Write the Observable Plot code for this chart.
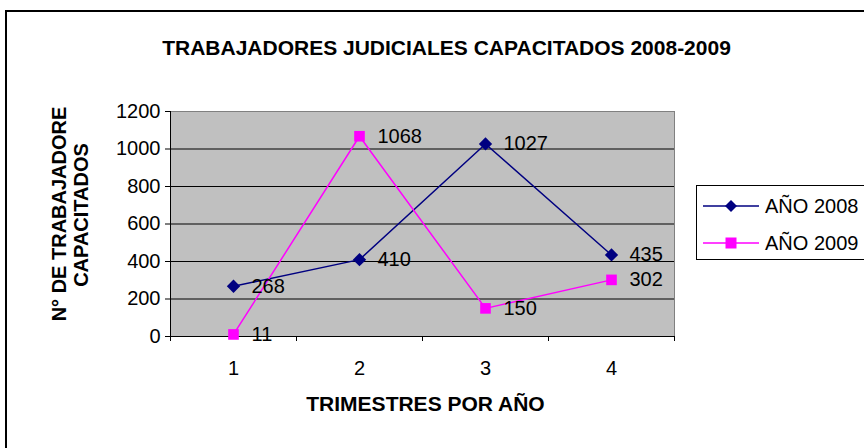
<!DOCTYPE html>
<html>
<head>
<meta charset="utf-8">
<script src="https://cdn.jsdelivr.net/npm/d3@7"></script>
<script src="https://cdn.jsdelivr.net/npm/@observablehq/plot@0.6"></script>
<style>
  html, body { margin: 0; padding: 0; background: #fff; overflow: hidden; width: 864px; height: 448px; }
  body { position: relative; font-family: "Liberation Sans", Arial, sans-serif; }
  #chart { position: absolute; left: 0; top: 0; }
  #border { position: absolute; left: 5px; top: 10px; width: 900px; height: 500px; border: 2px solid #000; box-sizing: border-box; pointer-events: none; }
  #legend { position: absolute; left: 696px; top: 185px; width: 190px; height: 75px; border: 1px solid #000; box-sizing: border-box; background: #fff; }
  .item { position: absolute; left: 6px; height: 24px; display: flex; align-items: center; font-size: 20px; color: #000; white-space: nowrap; }
  .item svg { margin-right: 6px; }
</style>
</head>
<body>
<div id="chart"></div>
<div id="border"></div>
<div id="legend"></div>
<script>
const quarters = [1, 2, 3, 4];
const series2008 = [268, 410, 1027, 435];
const series2009 = [11, 1068, 150, 302];
const seriesNames = ["AÑO 2008", "AÑO 2009"];
const yTicks = [0, 200, 400, 600, 800, 1000, 1200];
const xBoundaries = [0.5, 1.5, 2.5, 3.5, 4.5];
const title = "TRABAJADORES JUDICIALES CAPACITADOS 2008-2009";
const yLabel1 = "N° DE TRABAJADORE";
const yLabel2 = "CAPACITADOS";
const xLabel = "TRIMESTRES POR AÑO";

const colors = ["#000080", "#FF00FF"];
const symbols = ["diamond2", "square"];

const d08 = quarters.map((q, i) => ({q, v: series2008[i]}));
const d09 = quarters.map((q, i) => ({q, v: series2009[i]}));

const font = "Liberation Sans, Arial, sans-serif";

const chart = Plot.plot({
  width: 864,
  height: 448,
  marginLeft: 170,
  marginRight: 190,
  marginTop: 111,
  marginBottom: 112,
  style: {fontFamily: font, fontSize: "20px", color: "#000", background: "transparent"},
  x: {domain: [0.5, 4.5]},
  y: {domain: [0, 1200]},
  marks: [
    Plot.frame({fill: "#C0C0C0", stroke: "#808080"}),
    Plot.ruleY(yTicks.filter(d => d > 0 && d < 1200), {stroke: "#000", strokeWidth: 1}),
    Plot.ruleY([0], {stroke: "#000"}),
    Plot.ruleX([0.5], {stroke: "#000"}),
    Plot.axisY({ticks: yTicks, tickSize: 5, tickPadding: 5, fontSize: 20, label: null, tickFormat: d => String(d)}),
    Plot.axisX({ticks: xBoundaries, tickSize: 5, tickFormat: () => "", label: null}),
    Plot.axisX({ticks: quarters, tickSize: 0, tickPadding: 24, fontSize: 20, label: null, tickFormat: d => String(d)}),
    Plot.line(d08, {x: "q", y: "v", stroke: colors[0], strokeWidth: 1.5}),
    Plot.line(d09, {x: "q", y: "v", stroke: colors[1], strokeWidth: 1.5}),
    Plot.dot(d08, {x: "q", y: "v", symbol: symbols[0], fill: colors[0], r: 6}),
    Plot.dot(d09, {x: "q", y: "v", symbol: symbols[1], fill: colors[1], r: 6}),
    Plot.text(d08, {x: "q", y: "v", text: d => String(d.v), dx: 18, textAnchor: "start", fontSize: 20, fill: "#000"}),
    Plot.text(d09, {x: "q", y: "v", text: d => String(d.v), dx: 18, textAnchor: "start", fontSize: 20, fill: "#000"}),
    Plot.text([title], {frameAnchor: "top", dx: 24, dy: -71, fontSize: 21, fontWeight: "bold", fill: "#000"}),
    Plot.text([xLabel], {frameAnchor: "bottom", dx: 3, dy: 74, fontSize: 21, fontWeight: "bold", fill: "#000"}),
    Plot.text([yLabel1], {frameAnchor: "left", rotate: -90, textAnchor: "middle", dx: -111, dy: -10, fontSize: 20, fontWeight: "bold", fill: "#000"}),
    Plot.text([yLabel2], {frameAnchor: "left", rotate: -90, textAnchor: "middle", dx: -89, dy: -9, fontSize: 20, fontWeight: "bold", fill: "#000"})
  ]
});
document.getElementById("chart").appendChild(chart);

// Legend
const legend = document.getElementById("legend");
seriesNames.forEach((name, i) => {
  const item = document.createElement("div");
  item.className = "item";
  item.style.top = (i === 0 ? 8 : 45) + "px";
  const sym = i === 0
    ? `<path d="M28,5 L34,11 L28,17 L22,11 Z" fill="${colors[0]}"/>`
    : `<rect x="22.5" y="5.5" width="11" height="11" fill="${colors[1]}"/>`;
  item.innerHTML = `<svg width="56" height="22"><line x1="0" y1="11" x2="56" y2="11" stroke="${colors[i]}" stroke-width="1.5"/>${sym}</svg><span>${name}</span>`;
  legend.appendChild(item);
});
</script>
</body>
</html>
